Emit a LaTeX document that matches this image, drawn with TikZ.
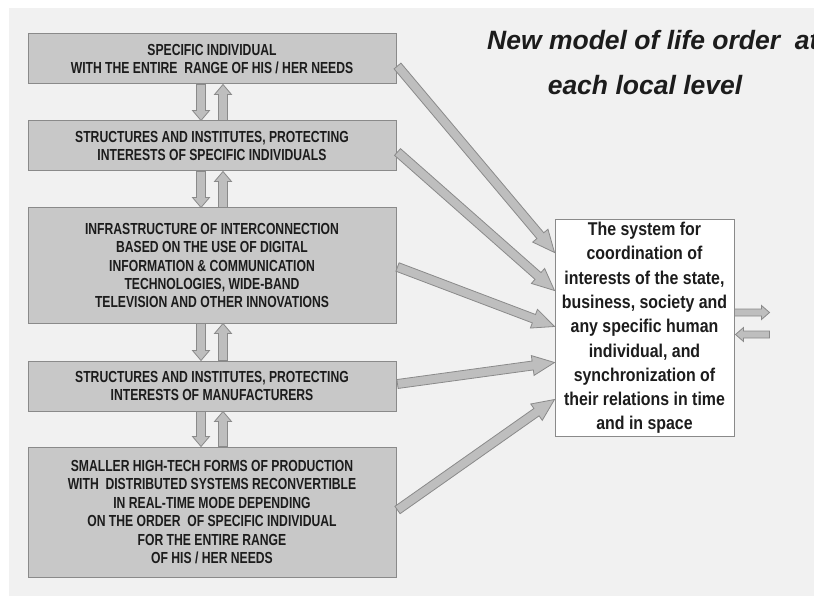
\documentclass[tikz,border=0pt]{standalone}
\usepackage{fontspec}
\setmainfont{Liberation Sans}
\newfontfamily\boxfont[FakeStretch=0.76]{Liberation Sans}
\newfontfamily\sysfont[FakeStretch=0.86]{Liberation Sans}
\newfontfamily\titlefont{Liberation Sans}
\usetikzlibrary{calc}
\definecolor{bgc}{HTML}{F1F1F1}
\definecolor{boxfill}{HTML}{C8C8C8}
\definecolor{boxline}{HTML}{8A8A8A}
\definecolor{arrfill}{HTML}{BEBEBE}
\definecolor{txt}{HTML}{1C1C1C}
\tikzset{
  lbox/.style={draw=boxline, fill=boxfill, line width=1pt, minimum width=368pt,
    inner sep=0pt, align=center, text=txt,
    font=\boxfont\bfseries\fontsize{16}{18.4}\selectfont},
  sysbox/.style={draw=boxline, fill=white, line width=1pt, minimum width=179pt,
    minimum height=216pt, inner sep=0pt, align=center, text=txt,
    font=\sysfont\bfseries\fontsize{18.5}{24.3}\selectfont},
  titletext/.style={text=txt, inner sep=0pt,
    font=\titlefont\bfseries\itshape\fontsize{26.5}{30}\selectfont},
  blockarr/.style={fill=arrfill, draw=boxline, line width=0.8pt, line join=miter}
}
% #1 from, #2 to, #3 shaft half width, #4 head half width, #5 head length
\newcommand\blockarrow[5]{%
  \coordinate (baP) at ($(#2)!#5!(#1)$);
  \draw[blockarr] ($(#1)!#3!90:(#2)$) -- ($(baP)!#3!90:(#2)$) -- ($(baP)!#4!90:(#2)$)
    -- (#2) -- ($(baP)!#4!-90:(#2)$) -- ($(baP)!#3!-90:(#2)$) -- ($(#1)!#3!-90:(#2)$) -- cycle;
}
\begin{document}
\begin{tikzpicture}[x=1pt,y=-1pt]
\useasboundingbox (0,0) rectangle (814,596);
\clip (0,0) rectangle (814,596);
\fill[white] (0,0) rectangle (814,596);
\fill[bgc] (9,8) rectangle (814,596);

\node[lbox, minimum height=50pt] (b1) at (212,59)
  {SPECIFIC INDIVIDUAL\\WITH THE ENTIRE\ \ RANGE OF HIS / HER NEEDS};
\node[lbox, minimum height=50pt] (b2) at (212,146)
  {STRUCTURES AND INSTITUTES, PROTECTING\\INTERESTS OF SPECIFIC INDIVIDUALS};
\node[lbox, minimum height=115pt] (b3) at (212,265.5)
  {INFRASTRUCTURE OF INTERCONNECTION\\BASED ON THE USE OF DIGITAL\\INFORMATION \& COMMUNICATION\\TECHNOLOGIES, WIDE-BAND\\TELEVISION AND OTHER INNOVATIONS};
\node[lbox, minimum height=50pt] (b4) at (212,386)
  {STRUCTURES AND INSTITUTES, PROTECTING\\INTERESTS OF MANUFACTURERS};
\node[lbox, minimum height=130pt] (b5) at (212,512)
  {SMALLER HIGH-TECH FORMS OF PRODUCTION\\WITH\ \ DISTRIBUTED SYSTEMS RECONVERTIBLE\\IN REAL-TIME MODE DEPENDING\\ON THE ORDER\ \ OF SPECIFIC INDIVIDUAL\\FOR THE ENTIRE RANGE\\OF HIS / HER NEEDS};

\node[sysbox] (sys) at (644.5,328)
  {The system for\\coordination of\\interests of the state,\\business, society and\\any specific human\\individual, and\\synchronization of\\their relations in time\\and in space};

\node[titletext, anchor=base west] (t1) at (487,50) {New model of life order\ \ at};
\node[titletext, anchor=base] (t2) at (645,95) {each local level};

% vertical double arrows
\foreach \u/\l/\i in {b1/b2/1, b2/b3/2, b3/b4/3, b4/b5/4}{
  \coordinate (dA\i) at ($(\u.south)+(-11,0)$);
  \coordinate (dB\i) at ($(\l.north)+(-11,0)$);
  \coordinate (uA\i) at ($(\l.north)+(11,0)$);
  \coordinate (uB\i) at ($(\u.south)+(11,0)$);
  \blockarrow{dA\i}{dB\i}{4.5pt}{8.5pt}{10pt}
  \blockarrow{uA\i}{uB\i}{4.5pt}{8.5pt}{10pt}
}

% diagonal arrows into the system box
\coordinate (s1) at ($(b1.east)+(1,7)$);
\coordinate (s2) at ($(b2.east)+(1,6)$);
\coordinate (s3) at ($(b3.east)+(1,1.5)$);
\coordinate (s4) at ($(b4.east)+(1,-2)$);
\coordinate (s5) at ($(b5.east)+(1,-2)$);
\coordinate (e1) at ($(sys.north west)+(0,33)$);
\coordinate (e2) at ($(sys.north west)+(0,71)$);
\coordinate (e3) at ($(sys.north west)+(0,107)$);
\coordinate (e4) at ($(sys.north west)+(0,143)$);
\coordinate (e5) at ($(sys.north west)+(0,180)$);
\foreach \i in {1,...,5}{
  \blockarrow{s\i}{e\i}{4.5pt}{10pt}{22pt}
}

% small arrows on the right
\coordinate (o1) at ($(sys.north east)+(0,93)$);
\coordinate (o2) at ($(sys.north east)+(35,93)$);
\coordinate (i1) at ($(sys.north east)+(35,115)$);
\coordinate (i2) at ($(sys.north east)+(1,115)$);
\blockarrow{o1}{o2}{3.5pt}{7pt}{8pt}
\blockarrow{i1}{i2}{3.5pt}{7pt}{8pt}
\end{tikzpicture}
\end{document}
